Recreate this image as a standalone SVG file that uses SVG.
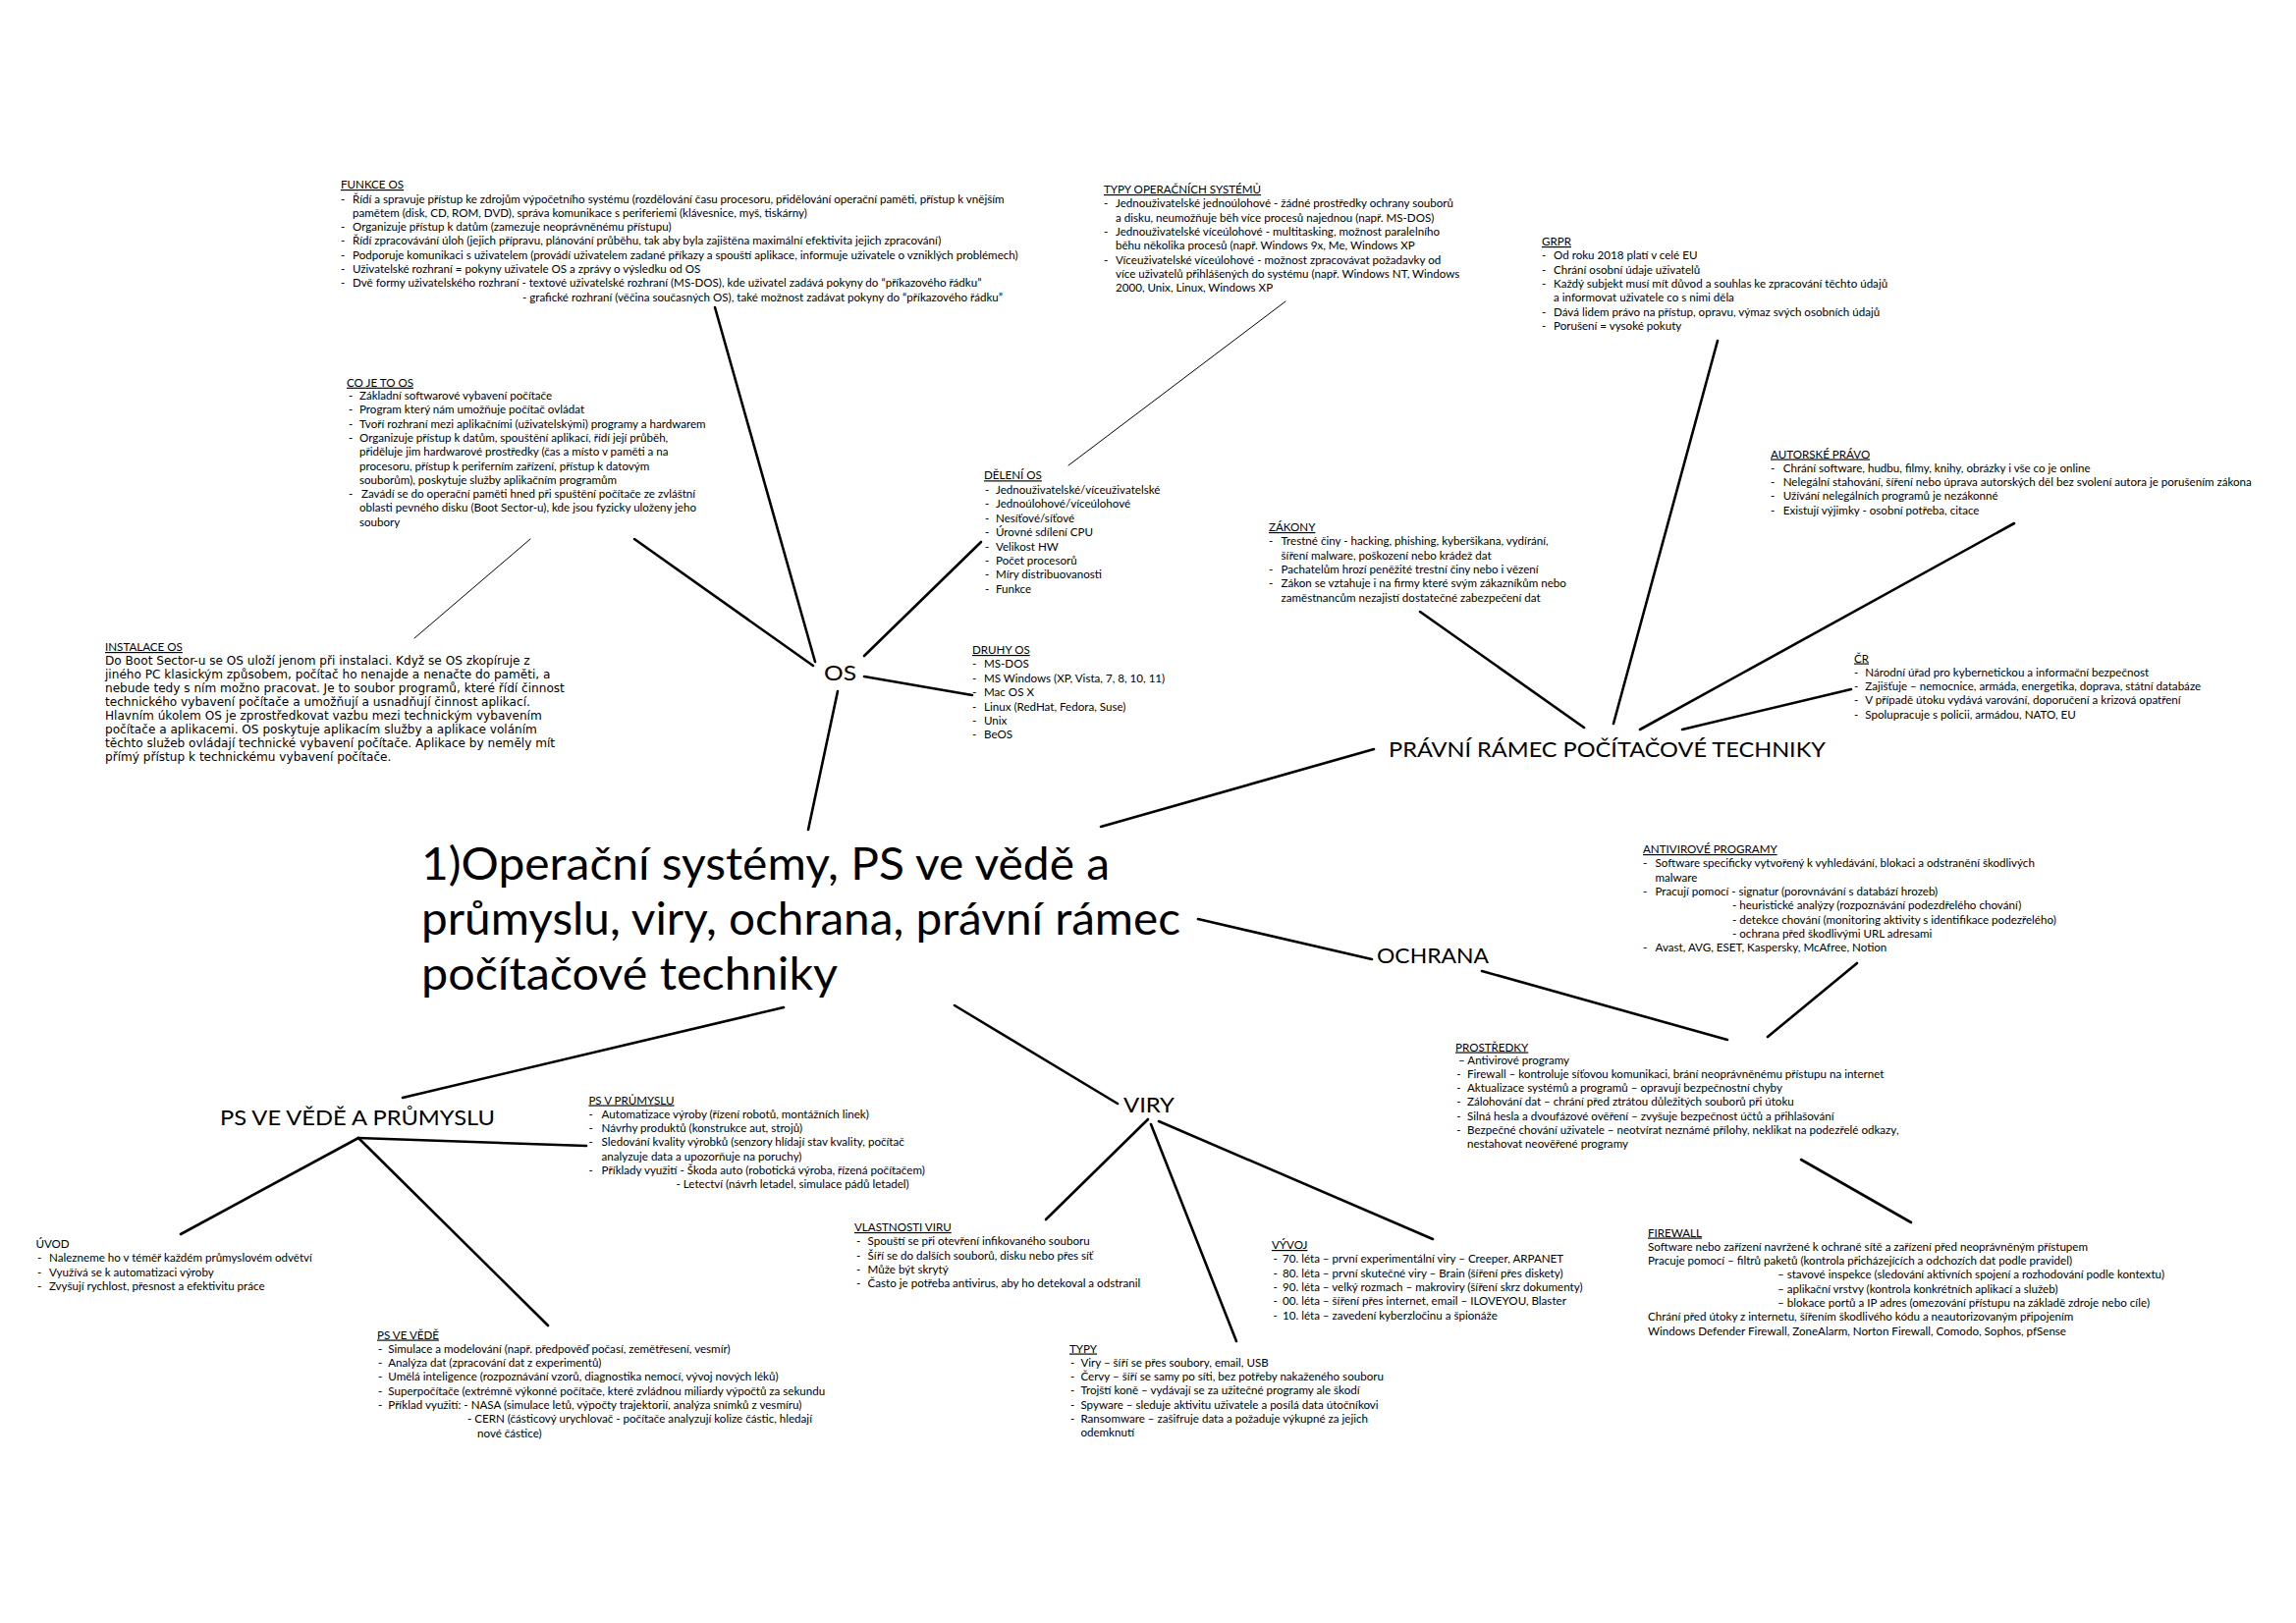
<svg xmlns="http://www.w3.org/2000/svg" width="2338" height="1653" viewBox="0 0 2338 1653">
<style>
text{font-family:Lato,"Liberation Sans",sans-serif;fill:#000}
.t{font-size:11.6px}
.h{text-decoration:underline}
.v{font-family:"DejaVu Sans",Verdana,sans-serif;font-size:12.1px}
.big{font-size:21px}
.title{font-size:46px}
.c line{stroke:#000;stroke-width:2.6;stroke-linecap:round}
.c line.thin{stroke-width:1}
</style>
<rect width="2338" height="1653" fill="#fff"/>
<g class="c" id="connectors">
<line x1="823" y1="845" x2="853" y2="704"/>
<line x1="830" y1="674" x2="728" y2="313"/>
<line x1="828" y1="678" x2="646" y2="549"/>
<line x1="880" y1="668" x2="999" y2="552"/>
<line x1="880" y1="689" x2="990" y2="708"/>
<line class="thin" x1="1088" y1="474" x2="1309" y2="307"/>
<line class="thin" x1="540" y1="549" x2="422" y2="650"/>
<line x1="1121" y1="842" x2="1399" y2="763"/>
<line x1="1643" y1="737" x2="1749" y2="347"/>
<line x1="1613" y1="741" x2="1446" y2="623"/>
<line x1="1670" y1="743" x2="2051" y2="533"/>
<line x1="1713" y1="743" x2="1885" y2="702"/>
<line x1="1220" y1="936" x2="1397" y2="977"/>
<line x1="1509" y1="989" x2="1759" y2="1059"/>
<line x1="1891" y1="981" x2="1800" y2="1056"/>
<line x1="1834" y1="1181" x2="1946" y2="1245"/>
<line x1="972" y1="1024" x2="1138" y2="1124"/>
<line x1="1169" y1="1140" x2="1065" y2="1242"/>
<line x1="1172" y1="1145" x2="1259" y2="1366"/>
<line x1="1180" y1="1142" x2="1459" y2="1262"/>
<line x1="798" y1="1026" x2="410" y2="1118"/>
<line x1="365" y1="1159" x2="184" y2="1257"/>
<line x1="365" y1="1159" x2="558" y2="1350"/>
<line x1="365" y1="1159" x2="597" y2="1167"/>
</g>

<g id="title">
<text class="title" x="429" y="896" textLength="701" lengthAdjust="spacingAndGlyphs">1)Operační systémy, PS ve vědě a</text>
<text class="title" x="429" y="952" textLength="773" lengthAdjust="spacingAndGlyphs">průmyslu, viry, ochrana, právní rámec</text>
<text class="title" x="429" y="1008" textLength="424" lengthAdjust="spacingAndGlyphs">počítačové techniky</text>
</g>

<g id="os"><text class="big" x="839" y="693" textLength="33" lengthAdjust="spacingAndGlyphs">OS</text></g>
<g id="pravni-ramec"><text class="big" x="1414" y="771" textLength="445" lengthAdjust="spacingAndGlyphs">PRÁVNÍ RÁMEC POČÍTAČOVÉ TECHNIKY</text></g>
<g id="ochrana"><text class="big" x="1402" y="981" textLength="114" lengthAdjust="spacingAndGlyphs">OCHRANA</text></g>
<g id="viry"><text class="big" x="1144" y="1133" textLength="52" lengthAdjust="spacingAndGlyphs">VIRY</text></g>
<g id="ps-veda-prumysl"><text class="big" x="224" y="1146" textLength="280" lengthAdjust="spacingAndGlyphs">PS VE VĚDĚ A PRŮMYSLU</text></g>

<g id="funkce-os">
<text class="t h" x="347" y="192">FUNKCE OS</text>
<text class="t" y="206.5"><tspan x="347">-</tspan><tspan x="359">Řídí a spravuje přístup ke zdrojům výpočetního systému (rozdělování času procesoru, přidělování operační paměti, přístup k vnějším</tspan></text>
<text class="t" x="359" y="220.8">pamětem (disk, CD, ROM, DVD), správa komunikace s periferiemi (klávesnice, myš, tiskárny)</text>
<text class="t" y="235.1"><tspan x="347">-</tspan><tspan x="359">Organizuje přístup k datům (zamezuje neoprávněnému přístupu)</tspan></text>
<text class="t" y="249.4"><tspan x="347">-</tspan><tspan x="359">Řídí zpracovávání úloh (jejich přípravu, plánování průběhu, tak aby byla zajištěna maximální efektivita jejich zpracování)</tspan></text>
<text class="t" y="263.7"><tspan x="347">-</tspan><tspan x="359">Podporuje komunikaci s uživatelem (provádí uživatelem zadané příkazy a spouští aplikace, informuje uživatele o vzniklých problémech)</tspan></text>
<text class="t" y="278"><tspan x="347">-</tspan><tspan x="359">Uživatelské rozhraní = pokyny uživatele OS a zprávy o výsledku od OS</tspan></text>
<text class="t" y="292.3"><tspan x="347">-</tspan><tspan x="359">Dvě formy uživatelského rozhraní - textové uživatelské rozhraní (MS-DOS), kde uživatel zadává pokyny do “příkazového řádku”</tspan></text>
<text class="t" x="532" y="306.6">- grafické rozhraní (věčina současných OS), také možnost zadávat pokyny do “příkazového řádku”</text>
</g>

<g id="typy-os">
<text class="t h" x="1124" y="197">TYPY OPERAČNÍCH SYSTÉMŮ</text>
<text class="t" y="211.3"><tspan x="1124">-</tspan><tspan x="1136">Jednouživatelské jednoúlohové - žádné prostředky ochrany souborů</tspan></text>
<text class="t" x="1136" y="225.6">a disku, neumožňuje běh více procesů najednou (např. MS-DOS)</text>
<text class="t" y="239.9"><tspan x="1124">-</tspan><tspan x="1136">Jednouživatelské víceúlohové - multitasking, možnost paralelního</tspan></text>
<text class="t" x="1136" y="254.2">běhu několika procesů (např. Windows 9x, Me, Windows XP</text>
<text class="t" y="268.5"><tspan x="1124">-</tspan><tspan x="1136">Víceuživatelské víceúlohové - možnost zpracovávat požadavky od</tspan></text>
<text class="t" x="1136" y="282.8">více uživatelů přihlášených do systému (např. Windows NT, Windows</text>
<text class="t" x="1136" y="297.1">2000, Unix, Linux, Windows XP</text>
</g>

<g id="grpr">
<text class="t h" x="1570" y="250">GRPR</text>
<text class="t" y="264.3"><tspan x="1570">-</tspan><tspan x="1582">Od roku 2018 platí v celé EU</tspan></text>
<text class="t" y="278.6"><tspan x="1570">-</tspan><tspan x="1582">Chrání osobní údaje uživatelů</tspan></text>
<text class="t" y="292.9"><tspan x="1570">-</tspan><tspan x="1582">Každý subjekt musí mít důvod a souhlas ke zpracování těchto údajů</tspan></text>
<text class="t" x="1582" y="307.2">a informovat uživatele co s nimi děla</text>
<text class="t" y="321.5"><tspan x="1570">-</tspan><tspan x="1582">Dává lidem právo na přístup, opravu, výmaz svých osobních údajů</tspan></text>
<text class="t" y="335.8"><tspan x="1570">-</tspan><tspan x="1582">Porušení = vysoké pokuty</tspan></text>
</g>

<g id="co-je-to-os">
<text class="t h" x="353" y="393.7">CO JE TO OS</text>
<text class="t" y="407"><tspan x="355">-</tspan><tspan x="366">Základní softwarové vybavení počítače</tspan></text>
<text class="t" y="421.3"><tspan x="355">-</tspan><tspan x="366">Program který nám umožňuje počítač ovládat</tspan></text>
<text class="t" y="435.6"><tspan x="355">-</tspan><tspan x="366">Tvoří rozhraní mezi aplikačními (uživatelskými) programy a hardwarem</tspan></text>
<text class="t" y="449.9"><tspan x="355">-</tspan><tspan x="366">Organizuje přístup k datům, spouštění aplikací, řídí její průběh,</tspan></text>
<text class="t" x="366" y="464.2">přiděluje jim hardwarové prostředky (čas a místo v paměti a na</text>
<text class="t" x="366" y="478.5">procesoru, přístup k periferním zařízení, přístup k datovým</text>
<text class="t" x="366" y="492.8">souborům), poskytuje služby aplikačním programům</text>
<text class="t" y="507.1"><tspan x="355">-</tspan><tspan x="368">Zavádí se do operační paměti hned při spuštění počítače ze zvláštní</tspan></text>
<text class="t" x="366" y="521.4">oblasti pevného disku (Boot Sector-u), kde jsou fyzicky uloženy jeho</text>
<text class="t" x="366" y="535.7">soubory</text>
</g>

<g id="deleni-os">
<text class="t h" x="1002" y="488.3">DĚLENÍ OS</text>
<text class="t" y="503"><tspan x="1003">-</tspan><tspan x="1014">Jednouživatelské/víceuživatelské</tspan></text>
<text class="t" y="517.4"><tspan x="1003">-</tspan><tspan x="1014">Jednoúlohové/víceúlohové</tspan></text>
<text class="t" y="531.8"><tspan x="1003">-</tspan><tspan x="1014">Nesíťové/síťové</tspan></text>
<text class="t" y="546.2"><tspan x="1003">-</tspan><tspan x="1014">Úrovné sdílení CPU</tspan></text>
<text class="t" y="560.6"><tspan x="1003">-</tspan><tspan x="1014">Velikost HW</tspan></text>
<text class="t" y="575"><tspan x="1003">-</tspan><tspan x="1014">Počet procesorů</tspan></text>
<text class="t" y="589.4"><tspan x="1003">-</tspan><tspan x="1014">Míry distribuovanosti</tspan></text>
<text class="t" y="603.8"><tspan x="1003">-</tspan><tspan x="1014">Funkce</tspan></text>
</g>

<g id="druhy-os">
<text class="t h" x="990" y="666">DRUHY OS</text>
<text class="t" y="680.4"><tspan x="990">-</tspan><tspan x="1002">MS-DOS</tspan></text>
<text class="t" y="694.8"><tspan x="990">-</tspan><tspan x="1002">MS Windows (XP, Vista, 7, 8, 10, 11)</tspan></text>
<text class="t" y="709.2"><tspan x="990">-</tspan><tspan x="1002">Mac OS X</tspan></text>
<text class="t" y="723.6"><tspan x="990">-</tspan><tspan x="1002">Linux (RedHat, Fedora, Suse)</tspan></text>
<text class="t" y="738"><tspan x="990">-</tspan><tspan x="1002">Unix</tspan></text>
<text class="t" y="752.4"><tspan x="990">-</tspan><tspan x="1002">BeOS</tspan></text>
</g>

<g id="instalace-os">
<text class="t h" x="107" y="663">INSTALACE OS</text>
<text class="v" x="107" y="677.3">Do Boot Sector-u se OS uloží jenom při instalaci. Když se OS zkopíruje z</text>
<text class="v" x="107" y="691.3">jiného PC klasickým způsobem, počítač ho nenajde a nenačte do paměti, a</text>
<text class="v" x="107" y="705.3">nebude tedy s ním možno pracovat. Je to soubor programů, které řídí činnost</text>
<text class="v" x="107" y="719.3">technického vybavení počítače a umožňují a usnadňují činnost aplikací.</text>
<text class="v" x="107" y="733.3">Hlavním úkolem OS je zprostředkovat vazbu mezi technickým vybavením</text>
<text class="v" x="107" y="747.3">počítače a aplikacemi. OS poskytuje aplikacím služby a aplikace voláním</text>
<text class="v" x="107" y="761.3">těchto služeb ovládají technické vybavení počítače. Aplikace by neměly mít</text>
<text class="v" x="107" y="775.3">přímý přístup k technickému vybavení počítače.</text>
</g>

<g id="zakony">
<text class="t h" x="1292" y="541">ZÁKONY</text>
<text class="t" y="555.3"><tspan x="1292">-</tspan><tspan x="1304.5">Trestné činy - hacking, phishing, kyberšikana, vydírání,</tspan></text>
<text class="t" x="1304.5" y="569.6">šíření malware, poškození nebo krádež dat</text>
<text class="t" y="583.9"><tspan x="1292">-</tspan><tspan x="1304.5">Pachatelům hrozí peněžité trestní činy nebo i vězení</tspan></text>
<text class="t" y="598.2"><tspan x="1292">-</tspan><tspan x="1304.5">Zákon se vztahuje i na firmy které svým zákazníkům nebo</tspan></text>
<text class="t" x="1304.5" y="612.5">zaměstnancům nezajistí dostatečné zabezpečení dat</text>
</g>

<g id="autorske-pravo">
<text class="t h" x="1803" y="466.5">AUTORSKÉ PRÁVO</text>
<text class="t" y="480.8"><tspan x="1803">-</tspan><tspan x="1815.7">Chrání software, hudbu, filmy, knihy, obrázky i vše co je online</tspan></text>
<text class="t" y="495.1"><tspan x="1803">-</tspan><tspan x="1815.7">Nelegální stahování, šíření nebo úprava autorských děl bez svolení autora je porušením zákona</tspan></text>
<text class="t" y="509.4"><tspan x="1803">-</tspan><tspan x="1815.7">Užívání nelegálních programů je nezákonné</tspan></text>
<text class="t" y="523.7"><tspan x="1803">-</tspan><tspan x="1815.7">Existují výjimky - osobní potřeba, citace</tspan></text>
</g>

<g id="cr">
<text class="t h" x="1888" y="674.5">ČR</text>
<text class="t" y="688.8"><tspan x="1888">-</tspan><tspan x="1899.3">Národní úřad pro kybernetickou a informační bezpečnost</tspan></text>
<text class="t" y="703.1"><tspan x="1888">-</tspan><tspan x="1899.3">Zajišťuje – nemocnice, armáda, energetika, doprava, státní databáze</tspan></text>
<text class="t" y="717.4"><tspan x="1888">-</tspan><tspan x="1899.3">V případě útoku vydává varování, doporučení a krizová opatření</tspan></text>
<text class="t" y="731.7"><tspan x="1888">-</tspan><tspan x="1899.3">Spolupracuje s policii, armádou, NATO, EU</tspan></text>
</g>

<g id="antivirove-programy">
<text class="t h" x="1673" y="869">ANTIVIROVÉ PROGRAMY</text>
<text class="t" y="883.3"><tspan x="1673">-</tspan><tspan x="1685.5">Software specificky vytvořený k vyhledávání, blokaci a odstranění škodlivých</tspan></text>
<text class="t" x="1685.5" y="897.6">malware</text>
<text class="t" y="911.9"><tspan x="1673">-</tspan><tspan x="1685.5">Pracují pomocí - signatur (porovnávání s databází hrozeb)</tspan></text>
<text class="t" x="1764" y="926.2">- heuristické analýzy (rozpoznávání podezdřelého chování)</text>
<text class="t" x="1764" y="940.5">- detekce chování (monitoring aktivity s identifikace podezřelého)</text>
<text class="t" x="1764" y="954.8">- ochrana před škodlivými URL adresami</text>
<text class="t" y="969.1"><tspan x="1673">-</tspan><tspan x="1685.5">Avast, AVG, ESET, Kaspersky, McAfree, Notion</tspan></text>
</g>

<g id="prostredky">
<text class="t h" x="1482" y="1070.5">PROSTŘEDKY</text>
<text class="t" x="1485" y="1083.5">– Antivirové programy</text>
<text class="t" y="1097.8"><tspan x="1483.3">-</tspan><tspan x="1494">Firewall – kontroluje síťovou komunikaci, brání neoprávněnému přístupu na internet</tspan></text>
<text class="t" y="1112.1"><tspan x="1483.3">-</tspan><tspan x="1494">Aktualizace systémů a programů – opravují bezpečnostní chyby</tspan></text>
<text class="t" y="1126.4"><tspan x="1483.3">-</tspan><tspan x="1494">Zálohování dat – chrání před ztrátou důležitých souborů při útoku</tspan></text>
<text class="t" y="1140.7"><tspan x="1483.3">-</tspan><tspan x="1494">Silná hesla a dvoufázové ověření – zvyšuje bezpečnost účtů a přihlašování</tspan></text>
<text class="t" y="1155"><tspan x="1483.3">-</tspan><tspan x="1494">Bezpečné chování uživatele – neotvírat neznámé přílohy, neklikat na podezřelé odkazy,</tspan></text>
<text class="t" x="1494" y="1169.3">nestahovat neověřené programy</text>
</g>

<g id="firewall">
<text class="t h" x="1678" y="1259.5">FIREWALL</text>
<text class="t" x="1678" y="1273.8">Software nebo zařízení navržené k ochraně sítě a zařízení před neoprávněným přístupem</text>
<text class="t" x="1678" y="1288.1">Pracuje pomocí – filtrů paketů (kontrola přicházejících a odchozích dat podle pravidel)</text>
<text class="t" x="1810" y="1302.4">– stavové inspekce (sledování aktivních spojení a rozhodování podle kontextu)</text>
<text class="t" x="1810" y="1316.7">– aplikační vrstvy (kontrola konkrétních aplikací a služeb)</text>
<text class="t" x="1810" y="1331">– blokace portů a IP adres (omezování přístupu na základě zdroje nebo cíle)</text>
<text class="t" x="1678" y="1345.3">Chrání před útoky z internetu, šířením škodlivého kódu a neautorizovaným připojením</text>
<text class="t" x="1678" y="1359.6">Windows Defender Firewall, ZoneAlarm, Norton Firewall, Comodo, Sophos, pfSense</text>
</g>

<g id="uvod">
<text class="t" x="36.4" y="1271">ÚVOD</text>
<text class="t" y="1285.3"><tspan x="38">-</tspan><tspan x="50">Nalezneme ho v téměř každém průmyslovém odvětví</tspan></text>
<text class="t" y="1299.6"><tspan x="38">-</tspan><tspan x="50">Využívá se k automatizaci výroby</tspan></text>
<text class="t" y="1313.9"><tspan x="38">-</tspan><tspan x="50">Zvyšují rychlost, přesnost a efektivitu práce</tspan></text>
</g>

<g id="ps-ve-vede">
<text class="t h" x="384" y="1363.5">PS VE VĚDĚ</text>
<text class="t" y="1377.8"><tspan x="385">-</tspan><tspan x="395.3">Simulace a modelování (např. předpověď počasí, zemětřesení, vesmír)</tspan></text>
<text class="t" y="1392.1"><tspan x="385">-</tspan><tspan x="395.3">Analýza dat (zpracování dat z experimentů)</tspan></text>
<text class="t" y="1406.4"><tspan x="385">-</tspan><tspan x="395.3">Umělá inteligence (rozpoznávání vzorů, diagnostika nemocí, vývoj nových léků)</tspan></text>
<text class="t" y="1420.7"><tspan x="385">-</tspan><tspan x="395.3">Superpočítače (extrémně výkonné počítače, které zvládnou miliardy výpočtů za sekundu</tspan></text>
<text class="t" y="1435"><tspan x="385">-</tspan><tspan x="395.3">Příklad využití: - NASA (simulace letů, výpočty trajektorií, analýza snímků z vesmíru)</tspan></text>
<text class="t" x="476" y="1449.3">- CERN (částicový urychlovač - počítače analyzují kolize částic, hledají</text>
<text class="t" x="486" y="1463.6">nové částice)</text>
</g>

<g id="ps-v-prumyslu">
<text class="t h" x="599.4" y="1124.5">PS V PRŮMYSLU</text>
<text class="t" y="1138.8"><tspan x="599.4">-</tspan><tspan x="612.6">Automatizace výroby (řízení robotů, montážních linek)</tspan></text>
<text class="t" y="1153.1"><tspan x="599.4">-</tspan><tspan x="612.6">Návrhy produktů (konstrukce aut, strojů)</tspan></text>
<text class="t" y="1167.4"><tspan x="599.4">-</tspan><tspan x="612.6">Sledování kvality výrobků (senzory hlídají stav kvality, počítač</tspan></text>
<text class="t" x="612.6" y="1181.7">analyzuje data a upozorňuje na poruchy)</text>
<text class="t" y="1196"><tspan x="599.4">-</tspan><tspan x="612.6">Příklady využití - Škoda auto (robotická výroba, řízená počítačem)</tspan></text>
<text class="t" x="688.5" y="1210.3">- Letectví (návrh letadel, simulace pádů letadel)</text>
</g>

<g id="vlastnosti-viru">
<text class="t h" x="870" y="1254">VLASTNOSTI VIRU</text>
<text class="t" y="1268.3"><tspan x="872">-</tspan><tspan x="883.6">Spouští se při otevření infikovaného souboru</tspan></text>
<text class="t" y="1282.6"><tspan x="872">-</tspan><tspan x="883.6">Šíří se do dalších souborů, disku nebo přes síť</tspan></text>
<text class="t" y="1296.9"><tspan x="872">-</tspan><tspan x="883.6">Může být skrytý</tspan></text>
<text class="t" y="1311.2"><tspan x="872">-</tspan><tspan x="883.6">Často je potřeba antivirus, aby ho detekoval a odstranil</tspan></text>
</g>

<g id="vyvoj">
<text class="t h" x="1295" y="1272">VÝVOJ</text>
<text class="t" y="1286.3"><tspan x="1296.6">-</tspan><tspan x="1306">70. léta –  první experimentální viry – Creeper, ARPANET</tspan></text>
<text class="t" y="1300.6"><tspan x="1296.6">-</tspan><tspan x="1306">80. léta – první skutečné viry – Brain (šíření přes diskety)</tspan></text>
<text class="t" y="1314.9"><tspan x="1296.6">-</tspan><tspan x="1306">90. léta – velký rozmach – makroviry (šíření skrz dokumenty)</tspan></text>
<text class="t" y="1329.2"><tspan x="1296.6">-</tspan><tspan x="1306">00. léta – šíření přes internet, email – ILOVEYOU, Blaster</tspan></text>
<text class="t" y="1343.5"><tspan x="1296.6">-</tspan><tspan x="1306">10. léta – zavedení kyberzločinu a špionáže</tspan></text>
</g>

<g id="typy">
<text class="t h" x="1089" y="1377.5">TYPY</text>
<text class="t" y="1391.8"><tspan x="1090">-</tspan><tspan x="1100.4">Viry – šíří se přes soubory, email, USB</tspan></text>
<text class="t" y="1406.1"><tspan x="1090">-</tspan><tspan x="1100.4">Červy – šíří se samy po síti, bez potřeby nakaženého souboru</tspan></text>
<text class="t" y="1420.4"><tspan x="1090">-</tspan><tspan x="1100.4">Trojští koně – vydávají se za užitečné programy ale škodí</tspan></text>
<text class="t" y="1434.7"><tspan x="1090">-</tspan><tspan x="1100.4">Spyware – sleduje aktivitu uživatele a posílá data útočníkovi</tspan></text>
<text class="t" y="1449"><tspan x="1090">-</tspan><tspan x="1100.4">Ransomware – zašifruje data a požaduje výkupné za jejich</tspan></text>
<text class="t" x="1100.4" y="1463.3">odemknutí</text>
</g>
</svg>
